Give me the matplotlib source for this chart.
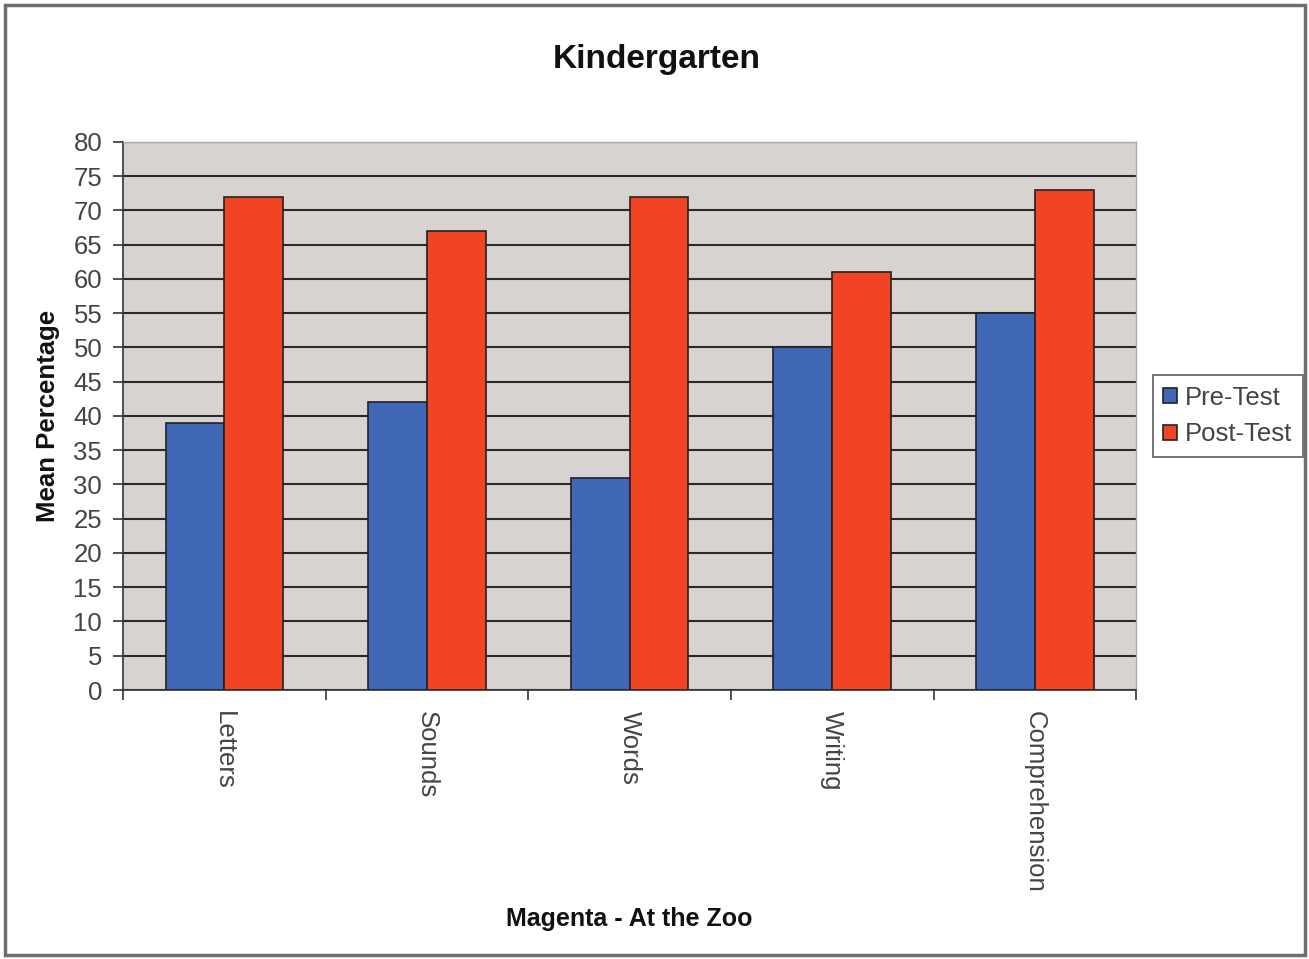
import matplotlib
matplotlib.use("Agg")
import matplotlib.pyplot as plt
import numpy as np
from matplotlib.patches import Rectangle

plt.rcParams['font.family'] = ['Liberation Sans', 'DejaVu Sans']

categories = ["Letters", "Sounds", "Words", "Writing", "Comprehension"]
pre_test = [39, 42, 31, 50, 55]
post_test = [72, 67, 72, 61, 73]
y_ticks = list(range(0, 81, 5))

fig = plt.figure(figsize=(13.09, 9.59), dpi=100)
fig.patch.set_facecolor("white")
# grey frame round the whole chart
fig.add_artist(Rectangle((0.004, 0.004), 0.993, 0.991, transform=fig.transFigure,
                         fill=False, edgecolor="#6e6e6e", linewidth=2.5))

ax = fig.add_axes([0.094, 0.2805, 0.774, 0.5715])
ax.set_facecolor("#d8d3d0")

x = np.arange(len(categories))
w = 0.29
ax.bar(x - w / 2, pre_test, w, color="#3f67b5", edgecolor="#222222", linewidth=1.2,
       label="Pre-Test", zorder=3)
ax.bar(x + w / 2, post_test, w, color="#f04422", edgecolor="#222222", linewidth=1.2,
       label="Post-Test", zorder=3)

ax.set_xlim(-0.5, len(categories) - 0.5)
ax.set_ylim(0, 80)
ax.set_yticks(y_ticks)
ax.yaxis.grid(True, color="#2a2a2a", linewidth=1.5, zorder=1)
ax.set_axisbelow(True)

# category labels centred, tick marks between categories
ax.set_xticks(x)
ax.set_xticklabels(categories, rotation=270, fontsize=18.5, color="#444444")
ax.tick_params(axis="x", length=0, pad=15)
ax.set_xticks(np.arange(-0.5, len(categories)), minor=True)
ax.tick_params(axis="x", which="minor", length=7, width=1.2, direction="out", color="#333333")
ax.tick_params(axis="y", length=7, width=1.2, direction="out", color="#333333",
               labelsize=18.5, labelcolor="#444444", pad=8)

for side in ["top", "right"]:
    ax.spines[side].set_color("#b0aaa8")
    ax.spines[side].set_linewidth(1.0)
for side in ["left", "bottom"]:
    ax.spines[side].set_color("#333333")
    ax.spines[side].set_linewidth(1.2)

fig.text(0.502, 0.938, "Kindergarten", fontsize=24, fontweight="bold", color="#111111",
         ha="center", va="center")
ax.set_ylabel("Mean Percentage", fontsize=18.5, fontweight="bold", color="#111111", labelpad=10)
fig.text(0.481, 0.034, "Magenta - At the Zoo", fontsize=18, fontweight="bold",
         color="#111111", ha="center")

leg = ax.legend(loc="center left", bbox_to_anchor=(1.0165, 0.5), borderaxespad=0,
                fontsize=18.5, frameon=True, fancybox=False, edgecolor="#333333",
                handlelength=0.55, handleheight=0.55, handletextpad=0.3, borderpad=0.4,
                labelspacing=0.5, labelcolor="#444444")
leg.get_frame().set_linewidth(1.2)

fig.savefig("out.png", dpi=100)
